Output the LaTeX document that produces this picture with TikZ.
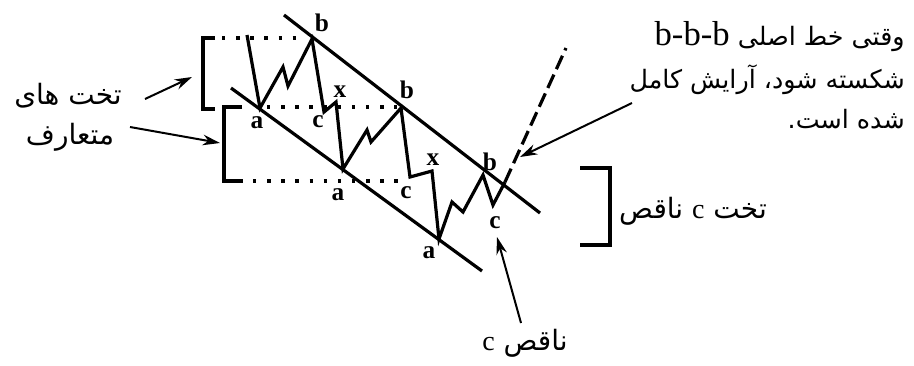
\documentclass[tikz,border=0pt]{standalone}
\usepackage{fontspec}
\setmainfont{Liberation Serif}
\newfontfamily\fafont[Script=Arabic]{DejaVu Sans}
\usetikzlibrary{arrows.meta}
\TeXXeTstate=1
\definecolor{ink}{HTML}{000000}

\begin{document}
\begin{tikzpicture}[x=0.75pt, y=-0.75pt,
  chan/.style={draw=ink, line width=2.4pt},
  wave/.style={draw=ink, line width=2.4pt, line join=miter},
  dots/.style={draw=ink, line width=2.6pt, dash pattern=on 2.6pt off 8pt},
  brk/.style={draw=ink, line width=2.5pt},
  ptr/.style={draw=ink, -{Stealth[length=13pt,width=8pt]}, line width=1.5pt},
  pt/.style={font=\fontsize{19}{21}\selectfont\bfseries, text=ink, inner sep=0pt},
  fa/.style={font=\fafont\fontsize{21}{24}\selectfont, text=ink, inner sep=0pt},
  fanote/.style={font=\fafont\fontsize{19}{22}\selectfont, text=ink, inner sep=0pt}
]
\useasboundingbox (0,0) rectangle (914,365);

% ---------- channel b-b-b / a-a-a ----------
\coordinate (u1) at (284,15);
\coordinate (u2) at (540,213);
\coordinate (l1) at (231,88);
\coordinate (l2) at (482,271);
\draw[chan] (u1) -- (u2);
\draw[chan] (l1) -- (l2);

% ---------- wave ----------
\coordinate (w0) at (247,35);
\coordinate (a1) at (260,108);
\coordinate (b1) at (312,39);
\coordinate (c1) at (324,112);
\coordinate (x1) at (336,102);
\coordinate (a2) at (343,169);
\coordinate (b2) at (401,108);
\coordinate (c2) at (410,177);
\coordinate (x2) at (432,171);
\coordinate (a3) at (439,239);
\coordinate (b3) at (483,175);
\coordinate (c3) at (493,205);
\coordinate (d0) at (505,182);
\coordinate (d1) at (566,48);
\draw[wave] (w0) -- (a1) -- ++(23,-41) -- ++(5,19) -- (b1) -- (c1) -- (x1) -- (a2)
  -- ++(24,-39) -- ++(4,12) -- (b2) -- (c2) -- (x2) -- (a3)
  -- ++(13,-37) -- ++(11,10) -- (b3) -- (c3) -- (d0);
\draw[wave, dash pattern=on 11pt off 4.5pt] (d0) -- (d1);

% ---------- dotted levels ----------
\draw[dots] (222,38) -- (305,38);
\draw[dots] (267,107) -- (397,107);
\draw[dots] (253,181) -- (407,181);

% ---------- brackets ----------
\draw[brk] (215,38) -| (203,109) -- (215,109);
\draw[brk] (242,107) -| (224,181) -- (243,181);
\draw[brk] (580,168) -| (610,245) -- (580,245);

% ---------- wave labels ----------
\node[pt] (la1) at (257,123) {a};
\node[pt] (la2) at (338,195) {a};
\node[pt] (la3) at (429,253) {a};
\node[pt] (lb1) at (322,23) {b};
\node[pt] (lb2) at (407,90) {b};
\node[pt] (lb3) at (490,162) {b};
\node[pt] (lc1) at (318,122) {c};
\node[pt] (lc2) at (406,193) {c};
\node[pt] (lc3) at (495,223) {c};
\node[pt] (lx1) at (340,92) {x};
\node[pt] (lx2) at (433,160) {x};

% ---------- texts ----------
\node[fa, anchor=base] (flat1) at (68,104) {\beginR تخت های\endR};
\node[fa, anchor=base] (flat2) at (70,144) {\beginR متعارف\endR};
\node[fanote, anchor=base east] (note1) at (905,45)
  {\beginR وقتی خط اصلی {\rmfamily\fontsize{26}{28}\selectfont\beginL b-b-b\endL}\endR};
\node[fanote, anchor=base east] (note2) at (905,88) {\beginR شکسته شود، آرایش کامل\endR};
\node[fanote, anchor=base east] (note3) at (905,128) {\beginR شده است.\endR};
\node[fa, anchor=base] (flatc) at (693,218) {\beginR تخت {\rmfamily c} ناقص\endR};
\node[fa, anchor=base] (trunc) at (525,350) {\beginR ناقص {\rmfamily c}\endR};

% ---------- pointers ----------
\coordinate (s1) at (145,99);
\coordinate (e1) at (192,77);
\coordinate (s2) at (130,127);
\coordinate (e2) at (220,143);
\coordinate (s3) at (632,103);
\coordinate (e3) at (520,157);
\coordinate (s4) at (521,323);
\coordinate (e4) at (497,237);
\draw[ptr] (s1) -- (e1);
\draw[ptr] (s2) -- (e2);
\draw[ptr] (s3) -- (e3);
\draw[ptr] (s4) -- (e4);

\end{tikzpicture}
\end{document}
